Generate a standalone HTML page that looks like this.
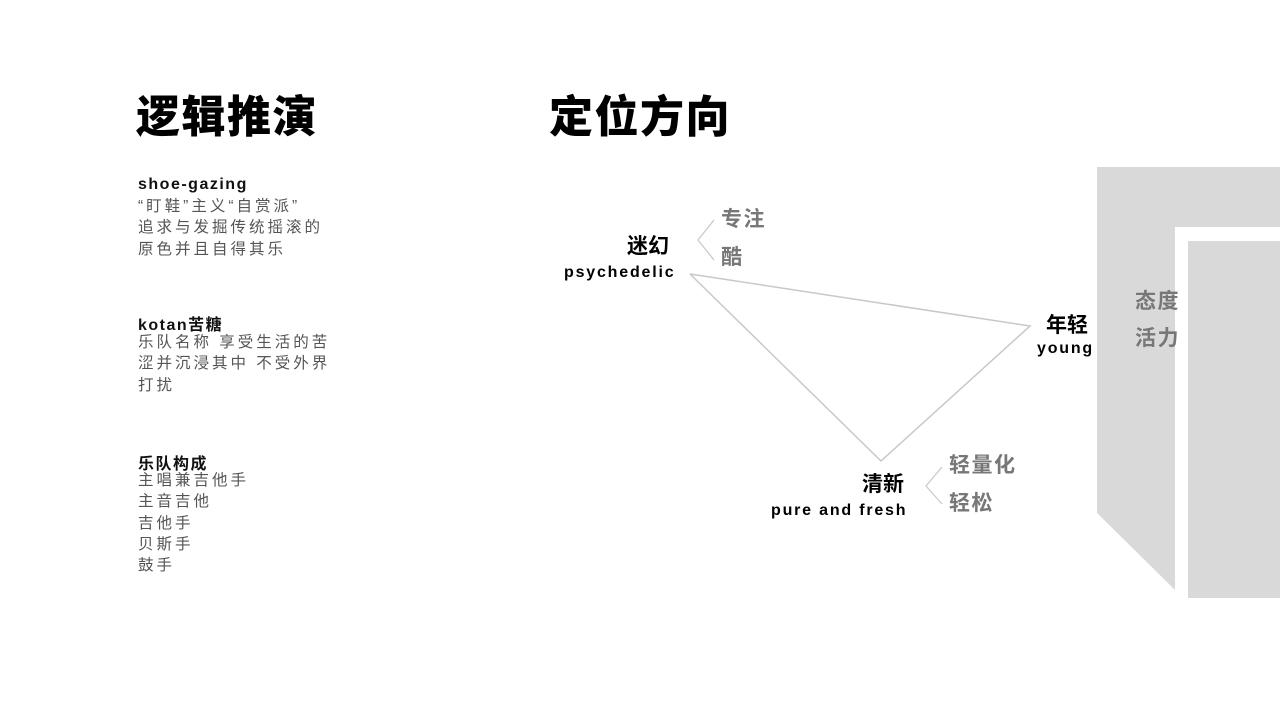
<!DOCTYPE html>
<html><head><meta charset="utf-8"><style>
body{margin:0;width:1280px;height:720px;background:#fff;position:relative;overflow:hidden;font-family:"Liberation Sans","Noto Sans CJK SC",sans-serif}
.a{position:absolute;white-space:nowrap}
.t{font-size:44px;font-weight:900;color:#000;letter-spacing:1.5px}
.h{font-size:16px;font-weight:bold;color:#111;letter-spacing:1.5px}
.p{font-size:15.5px;color:#555;letter-spacing:3px;line-height:21.3px}
.k{font-size:21px;font-weight:bold;color:#000}
.e{font-size:16px;font-weight:bold;color:#000;letter-spacing:1.8px}
.g{font-size:21px;font-weight:bold;color:#777;letter-spacing:1.5px}
</style></head><body>
<svg class="a" style="left:0;top:0" width="1280" height="720">
<polygon points="1097,167 1280,167 1280,227 1175,227 1175,590 1097,513" fill="#d9d9d9"/>
<rect x="1188" y="241" width="92" height="357" fill="#d9d9d9"/>
<polyline points="690,274 1030,326 881,461 690,274" fill="none" stroke="#c8c8c8" stroke-width="1.5"/>
<polyline points="714,220 698,240 714,260" fill="none" stroke="#c8c8c8" stroke-width="1.2"/>
<polyline points="942,467 926,486 942,504" fill="none" stroke="#c8c8c8" stroke-width="1.2"/>
</svg>
<div class="a t" style="left:136px;top:81px">逻辑推演</div>
<div class="a t" style="left:549px;top:81px">定位方向</div>
<div class="a h" style="left:138px;top:176px">shoe-gazing</div>
<div class="a p" style="left:138px;top:196px">“盯鞋”主义“自赏派”<br>追求与发掘传统摇滚的<br>原色并且自得其乐</div>
<div class="a h" style="left:138px;top:311px">kotan苦糖</div>
<div class="a p" style="left:138px;top:332px">乐队名称 享受生活的苦<br>涩并沉浸其中 不受外界<br>打扰</div>
<div class="a h" style="left:138px;top:450px">乐队构成</div>
<div class="a p" style="left:138px;top:470px">主唱兼吉他手<br>主音吉他<br>吉他手<br>贝斯手<br>鼓手</div>
<div class="a k" style="left:627px;top:230px">迷幻</div>
<div class="a e" style="left:564px;top:264px">psychedelic</div>
<div class="a g" style="left:721px;top:203px">专注</div>
<div class="a g" style="left:721px;top:241px">酷</div>
<div class="a k" style="left:1046px;top:309px">年轻</div>
<div class="a e" style="left:1037px;top:340px">young</div>
<div class="a k" style="left:862px;top:468px">清新</div>
<div class="a e" style="left:771px;top:502px">pure and fresh</div>
<div class="a g" style="left:949px;top:449px">轻量化</div>
<div class="a g" style="left:949px;top:487px">轻松</div>
<div class="a g" style="left:1135px;top:283px;line-height:37px">态度<br>活力</div>
</body></html>
